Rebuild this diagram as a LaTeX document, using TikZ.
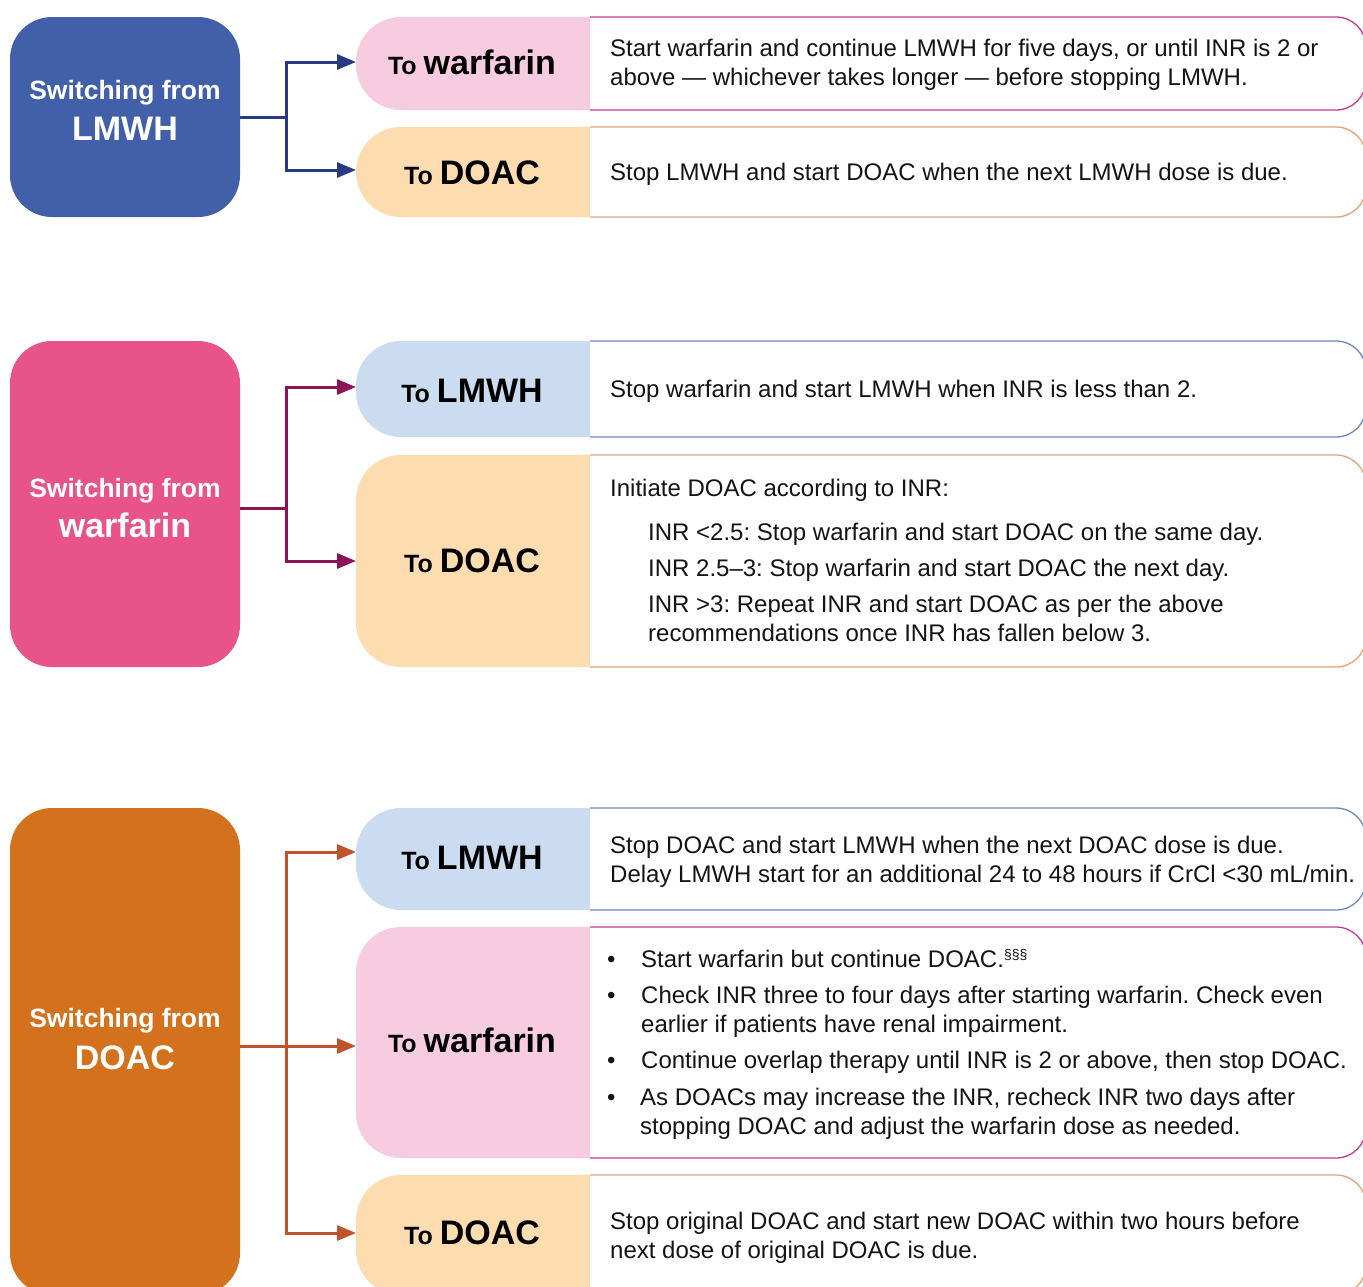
\documentclass[tikz,border=0pt]{standalone}
\usepackage{fontspec}
\setmainfont{Liberation Sans}
\usetikzlibrary{arrows.meta}
\definecolor{srcBlue}{HTML}{4160A9}
\definecolor{srcPink}{HTML}{E85489}
\definecolor{srcOrange}{HTML}{D4711D}
\definecolor{arrBlue}{HTML}{2A3A82}
\definecolor{arrPink}{HTML}{8C1358}
\definecolor{arrOrange}{HTML}{C0532B}
\definecolor{fillPink}{HTML}{F8CCE0}
\definecolor{fillOrange}{HTML}{FDDDAF}
\definecolor{fillBlue}{HTML}{CBDCF0}
\definecolor{bordPink}{HTML}{C43A8C}
\definecolor{bordOrange}{HTML}{E9A274}
\definecolor{bordBlue}{HTML}{6F88BC}
\definecolor{bodyText}{HTML}{141414}
\newcommand\tgtshape[4]{%
  \fill[#3, rounded corners=45pt] (590,#1) -- (356,#1) -- (356,#2) -- (590,#2);
  \filldraw[fill=white, draw=#4, line width=1.3pt, rounded corners=30pt] (590,#1) -- (1366,#1) -- (1366,#2) -- (590,#2);
}
\newcommand\headtxt[1]{{\fontsize{25}{29}\selectfont To}\hspace{7pt}{\fontsize{34}{40}\selectfont #1}}
\begin{document}
\frenchspacing
\begin{tikzpicture}[x=1pt,y=-1pt,
  srcbox/.style={rectangle, rounded corners=42pt, minimum width=230pt, inner sep=0pt},
  srcsmall/.style={anchor=base, text=white, inner sep=0pt, font=\bfseries\fontsize{26.5}{30}\selectfont},
  srcbig/.style={anchor=base, text=white, inner sep=0pt, font=\bfseries\fontsize{34}{40}\selectfont},
  headnode/.style={anchor=base, inner sep=0pt, text=black, font=\bfseries},
  body/.style={anchor=base west, inner sep=0pt, text=bodyText, font=\fontsize{24}{29}\selectfont},
  conn/.style={line width=3pt, -{Triangle[length=19pt,width=15pt]}}
]
\useasboundingbox (0,0) rectangle (1363,1286);
\clip (0,0) rectangle (1363,1286);

% ---------------- Section 1: from LMWH ----------------
\node[srcbox, fill=srcBlue, minimum height=200pt] (s1) at (125,117) {};
\node[srcsmall] (s1t) at (125,99) {Switching from};
\node[srcbig] (s1u) at (125,140) {LMWH};

\tgtshape{17}{110}{fillPink}{bordPink}
\tgtshape{127}{217}{fillOrange}{bordOrange}
\coordinate (t1a) at (356,62);
\coordinate (t1b) at (356,170);
\node[headnode] (h1a) at (472,74) {\headtxt{warfarin}};
\node[headnode] (h1b) at (472,184) {\headtxt{DOAC}};
\node[body] (b1a1) at (610,56) {Start warfarin and continue LMWH for five days, or until INR is 2 or};
\node[body] (b1a2) at (610,85) {above — whichever takes longer — before stopping LMWH.};
\node[body] (b1b1) at (610,180) {Stop LMWH and start DOAC when the next LMWH dose is due.};
\draw[conn, arrBlue] (s1.east) -- ++(46,0) |- (t1a);
\draw[conn, arrBlue] (s1.east) -- ++(46,0) |- (t1b);

% ---------------- Section 2: from warfarin ----------------
\node[srcbox, fill=srcPink, minimum height=326pt] (s2) at (125,504) {};
\node[srcsmall] (s2t) at (125,497) {Switching from};
\node[srcbig] (s2u) at (125,537) {warfarin};

\tgtshape{341}{437}{fillBlue}{bordBlue}
\tgtshape{455}{667}{fillOrange}{bordOrange}
\coordinate (t2a) at (356,387);
\coordinate (t2b) at (356,561);
\node[headnode] (h2a) at (472,402) {\headtxt{LMWH}};
\node[headnode] (h2b) at (472,572) {\headtxt{DOAC}};
\node[body] (b2a1) at (610,397) {Stop warfarin and start LMWH when INR is less than 2.};
\node[body] (b2b1) at (610,496) {Initiate DOAC according to INR:};
\node[body] (b2b2) at (648,540) {INR <2.5: Stop warfarin and start DOAC on the same day.};
\node[body] (b2b3) at (648,576) {INR 2.5–3: Stop warfarin and start DOAC the next day.};
\node[body] (b2b4) at (648,612) {INR >3: Repeat INR and start DOAC as per the above};
\node[body] (b2b5) at (648,641) {recommendations once INR has fallen below 3.};
\draw[conn, arrPink] (s2.east |- 0,508) -- ++(46,0) |- (t2a);
\draw[conn, arrPink] (s2.east |- 0,508) -- ++(46,0) |- (t2b);

% ---------------- Section 3: from DOAC ----------------
\node[srcbox, fill=srcOrange, minimum height=487pt] (s3) at (125,1051.5) {};
\node[srcsmall] (s3t) at (125,1027) {Switching from};
\node[srcbig] (s3u) at (125,1069) {DOAC};

\tgtshape{808}{910}{fillBlue}{bordBlue}
\tgtshape{927}{1158}{fillPink}{bordPink}
\tgtshape{1175}{1295}{fillOrange}{bordOrange}
\coordinate (t3a) at (356,852);
\coordinate (t3b) at (356,1046);
\coordinate (t3c) at (356,1233);
\node[headnode] (h3a) at (472,869) {\headtxt{LMWH}};
\node[headnode] (h3b) at (472,1052) {\headtxt{warfarin}};
\node[headnode] (h3c) at (472,1244) {\headtxt{DOAC}};
\node[body] (b3a1) at (610,853) {Stop DOAC and start LMWH when the next DOAC dose is due.};
\node[body] (b3a2) at (610,882) {Delay LMWH start for an additional 24 to 48 hours if CrCl <30 mL/min.};
\node[body] (p1) at (607,967) {•};
\node[body] (b3b1) at (641,967) {Start warfarin but continue DOAC.\raisebox{8pt}{\fontsize{14}{16}\selectfont §§§}};
\node[body] (p2) at (607,1003) {•};
\node[body] (b3b2) at (641,1003) {Check INR three to four days after starting warfarin. Check even};
\node[body] (b3b3) at (641,1032) {earlier if patients have renal impairment.};
\node[body] (p3) at (607,1068) {•};
\node[body] (b3b4) at (641,1068) {Continue overlap therapy until INR is 2 or above, then stop DOAC.};
\node[body] (p4) at (607,1105) {•};
\node[body] (b3b5) at (640,1105) {As DOACs may increase the INR, recheck INR two days after};
\node[body] (b3b6) at (640,1134) {stopping DOAC and adjust the warfarin dose as needed.};
\node[body] (b3c1) at (610,1229) {Stop original DOAC and start new DOAC within two hours before};
\node[body] (b3c2) at (610,1258) {next dose of original DOAC is due.};
\draw[conn, arrOrange] (s3.east |- t3b) -- ++(46,0) |- (t3a);
\draw[conn, arrOrange] (s3.east |- t3b) -- ++(46,0) |- (t3b);
\draw[conn, arrOrange] (s3.east |- t3b) -- ++(46,0) |- (t3c);
\end{tikzpicture}
\end{document}
